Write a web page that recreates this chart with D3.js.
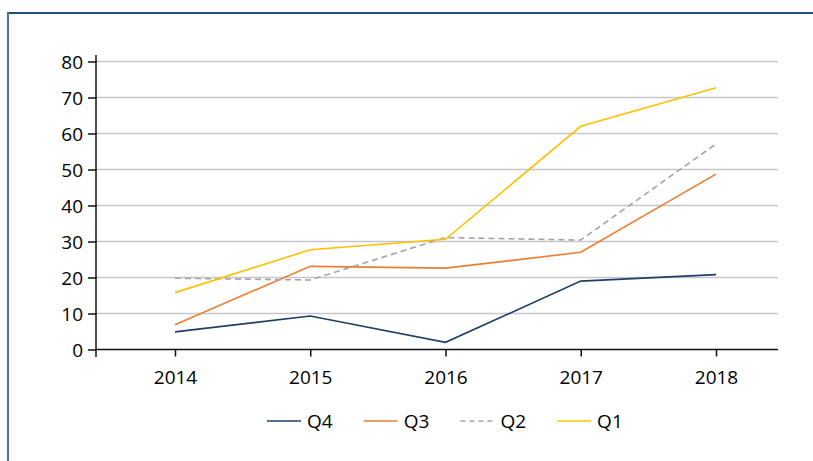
<!DOCTYPE html>
<html>
<head>
<meta charset="utf-8">
<script src="https://cdn.jsdelivr.net/npm/d3@7"></script>
<style>
  body { margin: 0; background: #fff; }
  text { font-family: "Open Sans", "Noto Sans", sans-serif; fill: #000; }
</style>
</head>
<body>
<div id="chart"></div>
<script>
// values
var years = ["2014", "2015", "2016", "2017", "2018"];
var q4 = [4.9, 9.3, 2.0, 19.0, 20.8];
var q3 = [6.9, 23.1, 22.6, 27.0, 48.7];
var q2 = [19.8, 19.3, 31.1, 30.4, 57.1];
var q1 = [15.8, 27.7, 30.6, 62.0, 72.7];
var yTicks = [0, 10, 20, 30, 40, 50, 60, 70, 80];

var series = [
  { name: "Q4", values: q4, color: "#1f3f66", dash: null },
  { name: "Q3", values: q3, color: "#ed7d31", dash: null },
  { name: "Q2", values: q2, color: "#a5a5a5", dash: "6,4" },
  { name: "Q1", values: q1, color: "#ffc000", dash: null }
];

var width = 813, height = 461;

var svg = d3.select("#chart").append("svg")
  .attr("width", width)
  .attr("height", height);

// frame
svg.append("line").attr("x1", 7).attr("x2", width).attr("y1", 13).attr("y2", 13)
  .attr("stroke", "#1d4f80").attr("stroke-width", 2);
svg.append("line").attr("x1", 8).attr("x2", 8).attr("y1", 12).attr("y2", height)
  .attr("stroke", "#4b7399").attr("stroke-width", 2);

var x = d3.scalePoint().domain(years).range([175, 716]);
var y = d3.scaleLinear().domain([0, 80]).range([349.5, 61.5]);

var left = 96, right = 778;

// gridlines
svg.append("g").selectAll("line")
  .data(yTicks.filter(d => d > 0))
  .enter().append("line")
  .attr("x1", left).attr("x2", right)
  .attr("y1", d => y(d)).attr("y2", d => y(d))
  .attr("stroke", "#c6c6cc")
  .attr("stroke-width", 1.5);

// y axis
var yAxis = svg.append("g")
  .attr("transform", "translate(" + left + ",0)")
  .call(d3.axisLeft(y).tickValues(yTicks).tickSize(8).tickSizeOuter(0).tickPadding(5));
yAxis.select(".domain").attr("d", "M0,55V357").attr("stroke", "#111").attr("stroke-width", 1.5);
yAxis.selectAll(".tick line").attr("stroke", "#111").attr("stroke-width", 1.5);
yAxis.selectAll("text").style("font-size", "19px").attr("fill", "#000").attr("dy", "0.36em");

// x axis
var xAxis = svg.append("g")
  .attr("transform", "translate(0," + y(0) + ")")
  .call(d3.axisBottom(x).tickSize(7).tickSizeOuter(0).tickPadding(14));
xAxis.select(".domain").attr("d", "M" + left + ",0H" + right).attr("stroke", "#111").attr("stroke-width", 1.5);
xAxis.selectAll(".tick line").attr("stroke", "#111").attr("stroke-width", 1.5);
xAxis.selectAll("text").style("font-size", "19px").attr("fill", "#000");

// lines
var line = d3.line()
  .x((d, i) => x(years[i]))
  .y(d => y(d));

svg.append("g").selectAll("path")
  .data(series)
  .enter().append("path")
  .attr("d", d => line(d.values))
  .attr("fill", "none")
  .attr("stroke", d => d.color)
  .attr("stroke-width", 1.6)
  .attr("stroke-dasharray", d => d.dash);

// legend
var legend = svg.append("g").selectAll("g")
  .data(series)
  .enter().append("g")
  .attr("transform", (d, i) => "translate(" + (267 + i * 96.7) + ",421)");

legend.append("line")
  .attr("x1", 0).attr("x2", 34)
  .attr("stroke", d => d.color)
  .attr("stroke-width", 1.6)
  .attr("stroke-dasharray", d => d.dash ? "5,4" : null);

legend.append("text")
  .attr("x", 40)
  .attr("dy", "0.36em")
  .style("font-size", "19px")
  .text(d => d.name);
</script>
</body>
</html>
